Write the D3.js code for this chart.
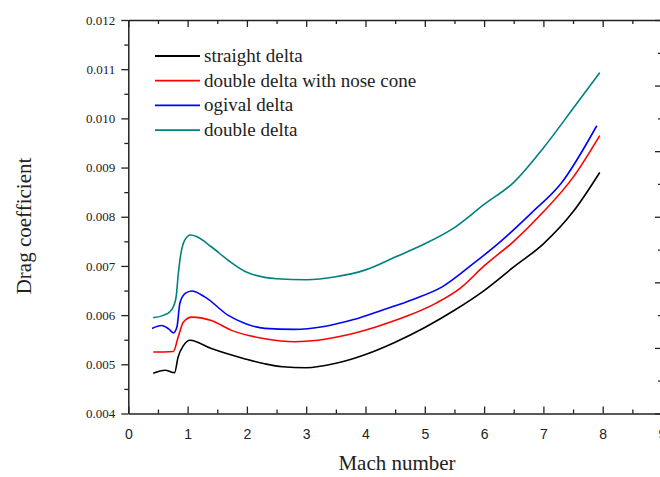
<!DOCTYPE html>
<html><head><meta charset="utf-8">
<script src="https://cdnjs.cloudflare.com/ajax/libs/d3/7.8.5/d3.min.js"></script>
<style>body{margin:0;background:#fff}svg{display:block}</style>
</head><body>
<svg id="c" width="660" height="477"></svg>
<script>
const seriesNames = ["straight delta","double delta with nose cone","ogival delta","double delta"];
const seriesColors = ["#000000","#ff0000","#0000ff","#008080"];
const straightM = [0.42,0.62,0.78,0.84,0.93,1.04,1.4,1.97,2.3,2.6,3,3.5,4,4.5,5,5.5,6,6.5,7,7.5,7.95];
const straightC = [0.00482,0.00488,0.00483,0.00515,0.00538,0.00549,0.00532,0.00511,0.00501,0.00495,0.00493,0.00502,0.0052,0.00545,0.00575,0.0061,0.0065,0.00698,0.00745,0.0081,0.0089];
const noseM = [0.42,0.6,0.76,0.84,0.93,1.07,1.4,1.74,2.3,2.8,3.2,3.7,4.2,4.7,5.2,5.6,6,6.5,7,7.5,7.95];
const noseC = [0.00525,0.00525,0.00526,0.00555,0.00586,0.00596,0.00589,0.00569,0.00552,0.00546,0.00549,0.0056,0.00577,0.00598,0.00625,0.00655,0.007,0.0075,0.0081,0.0088,0.00965];
const ogivalM = [0.4,0.56,0.68,0.76,0.82,0.87,0.96,1.07,1.29,1.68,1.97,2.3,2.8,3.3,3.8,4.3,4.8,5.3,5.8,6.3,6.8,7.3,7.9];
const ogivalC = [0.00573,0.00579,0.00572,0.00564,0.00576,0.00624,0.00644,0.00649,0.00637,0.006,0.00583,0.00573,0.00571,0.00577,0.00591,0.00611,0.00632,0.00658,0.00703,0.00752,0.00808,0.00868,0.00985];
const doubleM = [0.42,0.6,0.7,0.77,0.81,0.84,0.88,0.95,1.05,1.15,1.4,1.7,2,2.5,3,3.5,4,4.5,5,5.5,6,6.5,7,7.5,7.95];
const doubleC = [0.00595,0.006,0.00607,0.0062,0.0064,0.0068,0.0072,0.00752,0.00763,0.0076,0.00739,0.0071,0.00687,0.00674,0.00672,0.00678,0.00692,0.00718,0.00745,0.00778,0.00825,0.0087,0.0094,0.0102,0.01093];
const xTicks = [0,1,2,3,4,5,6,7,8,9];
const yTicks = [0.004,0.005,0.006,0.007,0.008,0.009,0.010,0.011,0.012];

const seriesM = [straightM, noseM, ogivalM, doubleM];
const seriesC = [straightC, noseC, ogivalC, doubleC];

const svg = d3.select("#c");
const L = 128.3, R = 662, T = 20, B = 413.5;
const x = d3.scaleLinear().domain([0,9]).range([L,R]);
const y = d3.scaleLinear().domain([0.004,0.012]).range([B,T]);
const yr = d3.scaleLinear().domain([0,6]).range([B,T]);
const axCol = "#222";

// curves
const line = d3.line().x(d=>x(d[0])).y(d=>y(d[1])).curve(d3.curveMonotoneX);
seriesM.forEach((m,i)=>{
  const pts = m.map((v,j)=>[v, seriesC[i][j]]);
  svg.append("path").attr("d", line(pts)).attr("fill","none")
     .attr("stroke", seriesColors[i]).attr("stroke-width",1.6).attr("stroke-linejoin","round");
});

// bottom axis (ticks inward)
const gBot = svg.append("g").attr("transform",`translate(0,${B})`)
  .call(d3.axisBottom(x).tickValues(xTicks).tickSize(-7).tickSizeOuter(0).tickFormat(d3.format("d")));
gBot.selectAll(".tick text").attr("y",16).attr("font-family","Liberation Sans, Arial, sans-serif").attr("font-size",14).attr("fill","#222");
const gBotMinor = svg.append("g").attr("transform",`translate(0,${B})`)
  .call(d3.axisBottom(x).tickValues(d3.range(0.5,9,1)).tickSize(-4).tickFormat(""));
gBotMinor.select(".domain").remove();

// left axis (ticks outward)
const gLeft = svg.append("g").attr("transform",`translate(${L},0)`)
  .call(d3.axisLeft(y).tickValues(yTicks).tickSize(7).tickSizeOuter(0).tickFormat(d3.format(".3f")));
gLeft.selectAll(".tick text").attr("x",-13).attr("font-family","Liberation Serif, Times New Roman, serif").attr("font-size",13).attr("fill","#222");
const gLeftMinor = svg.append("g").attr("transform",`translate(${L},0)`)
  .call(d3.axisLeft(y).tickValues(d3.range(0.0045,0.012,0.001)).tickSize(4).tickFormat(""));
gLeftMinor.select(".domain").remove();

// top axis (ticks inward)
const gTop = svg.append("g").attr("transform",`translate(0,${T})`)
  .call(d3.axisTop(x).tickValues(xTicks).tickSize(-7).tickSizeOuter(0).tickFormat(""));
const gTopMinor = svg.append("g").attr("transform",`translate(0,${T})`)
  .call(d3.axisTop(x).tickValues(d3.range(0.5,9,1)).tickSize(-4).tickFormat(""));
gTopMinor.select(".domain").remove();

// right axis (ticks inward)
const gRight = svg.append("g").attr("transform",`translate(${R},0)`)
  .call(d3.axisRight(yr).tickValues(d3.range(0,7,1)).tickSize(-7).tickSizeOuter(0).tickFormat(""));
const gRightMinor = svg.append("g").attr("transform",`translate(${R},0)`)
  .call(d3.axisRight(yr).tickValues(d3.range(0.5,6,1)).tickSize(-4).tickFormat(""));
gRightMinor.select(".domain").remove();

svg.selectAll(".domain").attr("stroke",axCol).attr("stroke-width",1.5);
svg.selectAll(".tick line").attr("stroke",axCol).attr("stroke-width",1.3);

// legend
const lg = svg.append("g").attr("transform","translate(155,56)");
seriesNames.forEach((n,i)=>{
  const g = lg.append("g").attr("transform",`translate(0,${i*24.7})`);
  g.append("line").attr("x1",0).attr("x2",45).attr("y1",0).attr("y2",0)
    .attr("stroke",seriesColors[i]).attr("stroke-width",1.8);
  g.append("text").attr("x",49).attr("y",6).text(n)
    .attr("font-family","Liberation Serif, Times New Roman, serif").attr("font-size",19).attr("fill","#222");
});

// axis titles
svg.append("text").attr("x",397).attr("y",470).attr("text-anchor","middle")
  .attr("font-family","Liberation Serif, Times New Roman, serif").attr("font-size",21).attr("fill","#222")
  .text("Mach number");
svg.append("text").attr("transform","translate(31,226) rotate(-90)").attr("text-anchor","middle")
  .attr("font-family","Liberation Serif, Times New Roman, serif").attr("font-size",21).attr("fill","#222")
  .text("Drag coefficient");
</script>
</body></html>
